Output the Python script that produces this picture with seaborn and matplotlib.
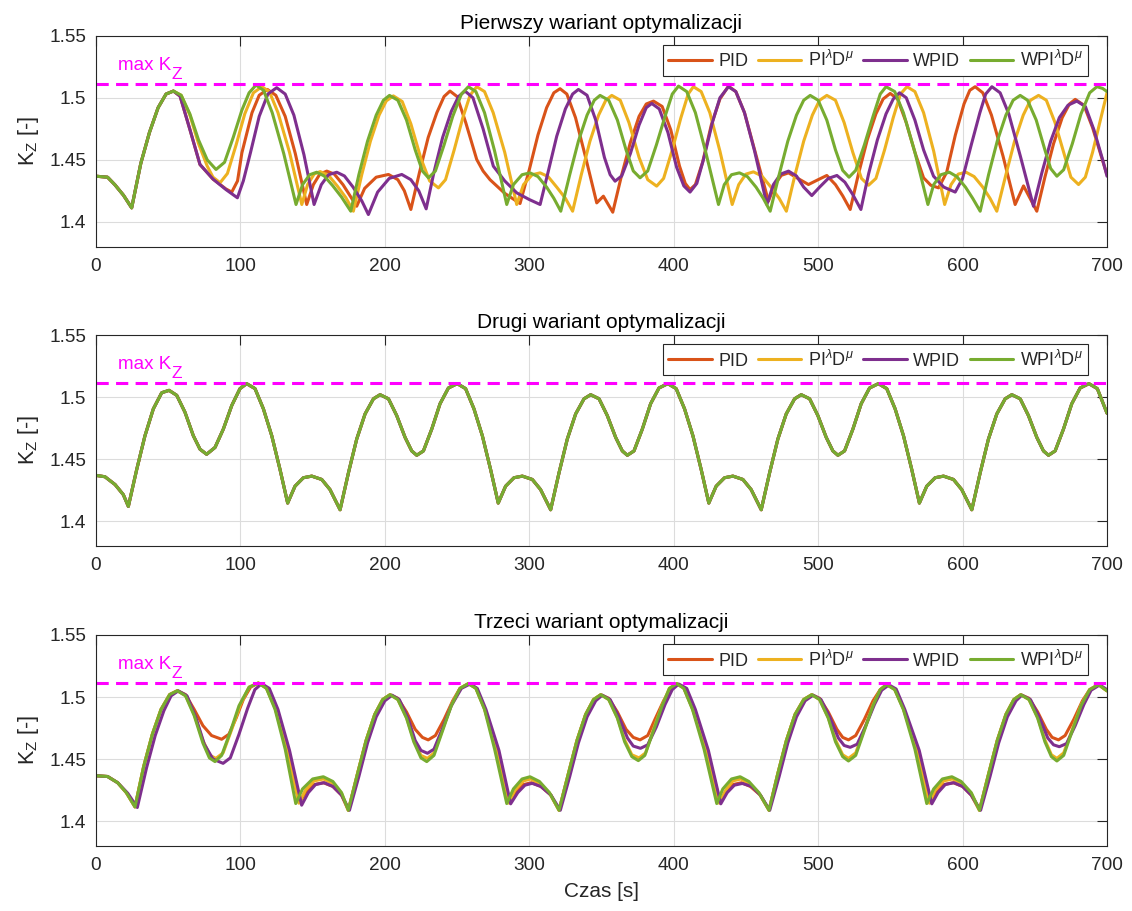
import matplotlib
matplotlib.use("Agg")
import pandas as pd
import seaborn as sns
import matplotlib.pyplot as plt

# ---- data ----
kz_max = 1.511
labels = ["PID", r"PI$^{\lambda}$D$^{\mu}$", "WPID", r"WPI$^{\lambda}$D$^{\mu}$"]
colors = ["#D95319", "#EDB120", "#7E2F8E", "#77AC30"]
titles = ["Pierwszy wariant optymalizacji", "Drugi wariant optymalizacji", "Trzeci wariant optymalizacji"]
xticks = [0, 100, 200, 300, 400, 500, 600, 700]
yticks = [1.4, 1.45, 1.5, 1.55]
ytick_labels = ["1.4", "1.45", "1.5", "1.55"]

# panel 1 - common start of all four runs
start1 = [(0, 1.4368), (8, 1.4360), (13, 1.4300), (19, 1.4215), (24.7, 1.4113), (31, 1.4470),
          (37, 1.4720), (43, 1.4920), (48.5, 1.5030), (53.6, 1.5054)]

pid1 = start1 + [
    (58.2, 1.5013), (65, 1.4745), (72, 1.4462), (81, 1.4345), (90, 1.4265), (94, 1.4240), (98, 1.4330),
    (101, 1.4556), (108, 1.4879), (113, 1.5020), (118.7, 1.5067), (124.5, 1.5020), (131, 1.4850),
    (138, 1.4550), (145.9, 1.4140), (150.5, 1.4300), (155, 1.4385), (159.8, 1.4409), (165, 1.4385),
    (171, 1.4300), (180.5, 1.4126), (186, 1.4270), (194, 1.4360), (202.5, 1.4382), (209, 1.4340),
    (213.5, 1.4250), (218, 1.4100), (224, 1.4400), (230, 1.4680), (236, 1.4880), (241, 1.5010),
    (245.1, 1.5054), (250, 1.5010), (256, 1.4800), (263.6, 1.4503), (268, 1.4410), (272.8, 1.4340),
    (283, 1.4230), (293.6, 1.4148), (300, 1.4420), (306, 1.4700), (312, 1.4920), (317, 1.5040),
    (321.3, 1.5073), (326, 1.5030), (332, 1.4840), (339, 1.4520), (346.7, 1.4153), (351.3, 1.4207),
    (357.8, 1.4078), (364, 1.4380), (370, 1.4640), (376, 1.4850), (381, 1.4950), (386, 1.4973),
    (392, 1.4930), (398, 1.4740), (404, 1.4450), (408, 1.4310), (411.3, 1.4260), (415, 1.4300),
    (420, 1.4480), (426, 1.4780), (432, 1.4990), (437.9, 1.5094), (443, 1.5050), (449, 1.4880),
    (456, 1.4580), (465.6, 1.4167), (470, 1.4300), (474.5, 1.4375), (479.5, 1.4395), (486, 1.4350),
    (493.3, 1.4301), (500, 1.4340), (506, 1.4374), (512, 1.4300), (517, 1.4210), (522.2, 1.4100),
    (528, 1.4390), (534, 1.4660), (540, 1.4870), (545, 1.4990), (549.9, 1.5035), (555, 1.4990),
    (561, 1.4800), (567, 1.4560), (573, 1.4355), (578, 1.4295), (583.4, 1.4274), (589, 1.4400),
    (595, 1.4700), (601, 1.4950), (605, 1.5060), (608.7, 1.5089), (614, 1.5040), (620, 1.4860),
    (628, 1.4530), (636.4, 1.4140), (642.2, 1.4290), (651.4, 1.4086), (657, 1.4360), (663, 1.4630),
    (669, 1.4840), (674, 1.4950), (678, 1.4987), (684, 1.4940), (690, 1.4760), (696, 1.4530),
    (700, 1.4380)]

fopid1 = start1 + [
    (59, 1.5020), (65, 1.4860), (71, 1.4630), (77, 1.4450), (81, 1.4360), (85.9, 1.4315), (91, 1.4390),
    (97, 1.4620), (103, 1.4870), (109, 1.5040), (114.8, 1.5089), (120, 1.5050), (126, 1.4880),
    (134, 1.4560), (142.5, 1.4140), (146.5, 1.4300), (151, 1.4385), (155.2, 1.4405), (161, 1.4375),
    (167, 1.4290), (173, 1.4195), (178.2, 1.4086), (184, 1.4380), (190, 1.4650), (196, 1.4860),
    (201, 1.4975), (205.9, 1.5015), (212, 1.4970), (218, 1.4790), (225, 1.4510), (231, 1.4330),
    (237.1, 1.4274), (242, 1.4340), (248, 1.4580), (254, 1.4840), (259, 1.5020), (263.6, 1.5089),
    (269, 1.5050), (275, 1.4880), (283, 1.4560), (291.3, 1.4140), (296, 1.4300), (302, 1.4380),
    (307.5, 1.4395), (313, 1.4365), (319, 1.4280), (325, 1.4190), (330, 1.4086), (336, 1.4380),
    (342, 1.4650), (348, 1.4860), (353, 1.4980), (357.1, 1.5019), (363, 1.4980), (369, 1.4800),
    (376, 1.4520), (382, 1.4340), (388.2, 1.4288), (393, 1.4350), (399, 1.4580), (405, 1.4840),
    (410, 1.5030), (413.6, 1.5089), (419, 1.5050), (425, 1.4880), (432, 1.4570), (440.5, 1.4140),
    (445, 1.4300), (450, 1.4385), (455.2, 1.4403), (461, 1.4370), (467, 1.4285), (473, 1.4190),
    (478, 1.4086), (484, 1.4380), (490, 1.4650), (496, 1.4860), (501, 1.4980), (506, 1.5019),
    (512, 1.4980), (518, 1.4800), (524, 1.4560), (530, 1.4350), (534.9, 1.4295), (540, 1.4350),
    (546, 1.4580), (552, 1.4840), (557, 1.5030), (561.5, 1.5089), (567, 1.5050), (573, 1.4880),
    (580, 1.4570), (587.6, 1.4140), (592, 1.4300), (597, 1.4385), (602.4, 1.4400), (608, 1.4365),
    (614, 1.4280), (619, 1.4190), (623.7, 1.4086), (630, 1.4380), (636, 1.4650), (642, 1.4860),
    (647, 1.4980), (652.6, 1.5019), (658, 1.4980), (664, 1.4800), (670, 1.4560), (675, 1.4360),
    (680.3, 1.4301), (685, 1.4360), (690, 1.4560), (695, 1.4800), (700, 1.5040)]

wpid1 = start1 + [
    (58.2, 1.5013), (65, 1.4745), (72, 1.4462), (81, 1.4345), (90, 1.4260), (97.9, 1.4194), (102, 1.4330),
    (107, 1.4560), (113, 1.4850), (119, 1.5030), (125.1, 1.5081), (131, 1.5030), (137, 1.4860),
    (144, 1.4540), (151, 1.4140), (156, 1.4300), (161, 1.4380), (166.7, 1.4400), (172, 1.4370),
    (178, 1.4280), (184, 1.4170), (188.6, 1.4059), (195, 1.4240), (203, 1.4350), (211.7, 1.4382),
    (218, 1.4340), (223.5, 1.4250), (228.6, 1.4105), (234, 1.4400), (240, 1.4680), (246, 1.4890),
    (251, 1.5010), (255.5, 1.5054), (261, 1.5000), (268, 1.4750), (275.1, 1.4449), (283, 1.4330),
    (291.3, 1.4234), (300, 1.4180), (307.5, 1.4140), (313, 1.4400), (319, 1.4690), (325, 1.4910),
    (330, 1.5030), (334, 1.5067), (340, 1.5020), (346, 1.4820), (352, 1.4520), (356, 1.4380),
    (359.4, 1.4328), (364, 1.4370), (370, 1.4550), (376, 1.4780), (381, 1.4920), (384.8, 1.4954),
    (390, 1.4910), (396, 1.4720), (402, 1.4440), (407, 1.4290), (411.3, 1.4240), (416, 1.4310),
    (421, 1.4520), (427, 1.4810), (432, 1.5000), (437.9, 1.5089), (443, 1.5050), (449, 1.4880),
    (456, 1.4570), (464.5, 1.4140), (469, 1.4300), (474, 1.4385), (479.5, 1.4409), (485, 1.4370),
    (490, 1.4280), (495.6, 1.4212), (501, 1.4280), (507, 1.4350), (513, 1.4374), (518.5, 1.4320),
    (524, 1.4220), (529.6, 1.4100), (535, 1.4390), (541, 1.4660), (547, 1.4870), (552, 1.4990),
    (556.3, 1.5040), (561, 1.5000), (567, 1.4820), (573, 1.4580), (579.9, 1.4368), (587, 1.4280),
    (594.9, 1.4240), (600, 1.4350), (606, 1.4620), (612, 1.4880), (616, 1.5030), (620.3, 1.5089),
    (626, 1.5040), (632, 1.4870), (640, 1.4530), (649.1, 1.4126), (655, 1.4400), (661, 1.4650),
    (667, 1.4840), (673, 1.4940), (679.1, 1.4973), (685, 1.4930), (691, 1.4740), (697, 1.4500),
    (700, 1.4368)]

wfopid1 = start1 + [
    (59, 1.5020), (65, 1.4870), (71, 1.4660), (77, 1.4500), (83.1, 1.4422), (89, 1.4480), (95, 1.4680),
    (101, 1.4900), (106, 1.5040), (110.8, 1.5102), (116, 1.5060), (122, 1.4880), (130, 1.4550),
    (138.5, 1.4140), (143, 1.4300), (148, 1.4380), (152.8, 1.4400), (158, 1.4370), (164, 1.4290),
    (170, 1.4200), (176.4, 1.4086), (182, 1.4380), (188, 1.4650), (194, 1.4860), (199, 1.4980),
    (203.2, 1.5019), (209, 1.4980), (215, 1.4820), (221, 1.4580), (226, 1.4410), (230.2, 1.4355),
    (235, 1.4410), (241, 1.4620), (247, 1.4850), (253, 1.5030), (257.8, 1.5089), (263, 1.5050),
    (269, 1.4880), (276, 1.4570), (284.4, 1.4140), (289, 1.4300), (295, 1.4380), (300.5, 1.4395),
    (306, 1.4365), (312, 1.4280), (317, 1.4190), (321.8, 1.4086), (328, 1.4380), (334, 1.4650),
    (340, 1.4860), (345, 1.4980), (349, 1.5019), (355, 1.4980), (361, 1.4820), (367, 1.4580),
    (372, 1.4410), (376.7, 1.4355), (382, 1.4410), (388, 1.4620), (394, 1.4850), (399, 1.5030),
    (403.3, 1.5094), (409, 1.5050), (415, 1.4880), (422, 1.4570), (431, 1.4140), (435, 1.4300),
    (440, 1.4380), (445.5, 1.4395), (451, 1.4365), (457, 1.4280), (462, 1.4190), (466.8, 1.4086),
    (473, 1.4380), (479, 1.4650), (485, 1.4860), (490, 1.4980), (494.5, 1.5019), (500, 1.4980),
    (506, 1.4820), (512, 1.4580), (517, 1.4415), (521.4, 1.4360), (526, 1.4415), (532, 1.4620),
    (538, 1.4850), (543, 1.5030), (547, 1.5089), (553, 1.5050), (559, 1.4880), (567, 1.4560),
    (576, 1.4140), (580, 1.4300), (585, 1.4380), (590.8, 1.4400), (596, 1.4365), (602, 1.4280),
    (607, 1.4190), (612.2, 1.4086), (618, 1.4380), (624, 1.4650), (630, 1.4860), (635, 1.4980),
    (639.9, 1.5019), (645, 1.4980), (651, 1.4820), (657, 1.4580), (661, 1.4430), (665.3, 1.4368),
    (670, 1.4420), (676, 1.4630), (682, 1.4870), (688, 1.5040), (693, 1.5089), (697, 1.5075),
    (700, 1.5050)]

# panel 2 - all four controllers give the same response
kz2 = [
    (0, 1.4369), (6.2, 1.4358), (13.2, 1.4295), (18.9, 1.4214), (22.4, 1.4119), (28.2, 1.4417),
    (33.9, 1.4688), (39.7, 1.4905), (45.5, 1.5035), (50.6, 1.5054), (55.9, 1.5014), (61.6, 1.4878),
    (67.4, 1.4688), (72.0, 1.4580), (76.6, 1.4539), (82.4, 1.4594), (88.2, 1.4743), (94.0, 1.4932),
    (99.7, 1.5068),
    (104.3, 1.5108), (110.1, 1.5068), (115.9, 1.4905), (121.7, 1.4688), (127.4, 1.4417), (132.7, 1.4146),
    (137.8, 1.4282), (143.6, 1.4350), (149.4, 1.4363), (156.3, 1.4336), (162.0, 1.4255), (169.0, 1.4092),
    (174.8, 1.4390), (180.5, 1.4661), (186.3, 1.4864), (192.1, 1.4986), (196.7, 1.5019), (202.5, 1.4986),
    (208.2, 1.4851), (214.0, 1.4675), (218.6, 1.4566), (222.1, 1.4531), (226.7, 1.4566), (232.5, 1.4743),
    (238.2, 1.4946), (244.0, 1.5073),
    (250.1, 1.5108), (255.9, 1.5068), (261.7, 1.4905), (267.5, 1.4688), (273.2, 1.4417), (278.5, 1.4146),
    (283.6, 1.4282), (289.4, 1.4350), (295.2, 1.4363), (302.1, 1.4336), (307.8, 1.4255), (314.8, 1.4092),
    (320.6, 1.4390), (326.3, 1.4661), (332.1, 1.4864), (337.9, 1.4986), (342.5, 1.5019), (348.3, 1.4986),
    (354.0, 1.4851), (359.8, 1.4675), (364.4, 1.4566), (367.9, 1.4531), (372.5, 1.4566), (378.3, 1.4743),
    (384.0, 1.4946), (389.8, 1.5073),
    (395.9, 1.5108), (401.7, 1.5068), (407.5, 1.4905), (413.3, 1.4688), (419.0, 1.4417), (424.3, 1.4146),
    (429.4, 1.4282), (435.2, 1.4350), (441.0, 1.4363), (447.9, 1.4336), (453.6, 1.4255), (460.6, 1.4092),
    (466.4, 1.4390), (472.1, 1.4661), (477.9, 1.4864), (483.7, 1.4986), (488.3, 1.5019), (494.1, 1.4986),
    (499.8, 1.4851), (505.6, 1.4675), (510.2, 1.4566), (513.7, 1.4531), (518.3, 1.4566), (524.1, 1.4743),
    (529.8, 1.4946), (535.6, 1.5073),
    (541.7, 1.5108), (547.5, 1.5068), (553.3, 1.4905), (559.1, 1.4688), (564.8, 1.4417), (570.1, 1.4146),
    (575.2, 1.4282), (581.0, 1.4350), (586.8, 1.4363), (593.7, 1.4336), (599.4, 1.4255), (606.4, 1.4092),
    (612.2, 1.4390), (617.9, 1.4661), (623.7, 1.4864), (629.5, 1.4986), (634.1, 1.5019), (639.9, 1.4986),
    (645.6, 1.4851), (651.4, 1.4675), (656.0, 1.4566), (659.5, 1.4531), (664.1, 1.4566), (669.9, 1.4743),
    (675.6, 1.4946), (681.4, 1.5073),
    (687.5, 1.5108), (693.3, 1.5068), (700, 1.4870)]

# panel 3
pid3 = [
    (0, 1.4366), (8, 1.4360), (15, 1.4310), (21, 1.4230), (27, 1.4115), (33, 1.4440), (39, 1.4700),
    (45, 1.4900), (51, 1.5020), (56.3, 1.5051), (62, 1.5020), (68, 1.4900), (74, 1.4770), (80, 1.4690),
    (87, 1.4660), (92, 1.4700), (97, 1.4830), (102, 1.4980), (107, 1.5080), (112.4, 1.5113),
    (118, 1.5075), (124, 1.4920), (132, 1.4590), (140.8, 1.4150), (145, 1.4230), (151, 1.4295),
    (157.4, 1.4310), (164, 1.4280), (170, 1.4210), (174.7, 1.4088), (181, 1.4380), (187, 1.4650),
    (193, 1.4860), (198.5, 1.4980), (203.6, 1.5019), (209, 1.4990), (215, 1.4880), (221, 1.4740),
    (226, 1.4675), (230, 1.4655), (235, 1.4690), (241, 1.4820), (247, 1.4970), (252, 1.5070),
    (257.8, 1.5108), (263, 1.5075), (269, 1.4910), (277, 1.4590), (286.5, 1.4150), (291, 1.4230),
    (296, 1.4295), (301.5, 1.4310), (308, 1.4280), (315, 1.4210), (320.6, 1.4088), (327, 1.4380),
    (333, 1.4650), (339, 1.4860), (344.5, 1.4980), (349.5, 1.5019), (355, 1.4990), (361, 1.4880),
    (367, 1.4740), (372, 1.4675), (376.7, 1.4655), (382, 1.4690), (387, 1.4820), (393, 1.4970),
    (398, 1.5070), (402.1, 1.5108), (407, 1.5075), (413, 1.4910), (423, 1.4590), (432, 1.4150),
    (436, 1.4230), (441, 1.4295), (447, 1.4310), (453, 1.4280), (460, 1.4210), (466, 1.4088),
    (472, 1.4380), (478, 1.4650), (484, 1.4860), (490, 1.4980), (495.6, 1.5019), (501, 1.4990),
    (507, 1.4880), (513, 1.4740), (517, 1.4675), (521, 1.4655), (526, 1.4690), (532, 1.4820),
    (538, 1.4970), (543, 1.5060), (547.5, 1.5100), (553, 1.5065), (559, 1.4910), (568, 1.4590),
    (577.5, 1.4150), (582, 1.4230), (587, 1.4295), (593.5, 1.4310), (600, 1.4280), (606, 1.4210),
    (611.7, 1.4088), (618, 1.4380), (624, 1.4650), (630, 1.4860), (635.5, 1.4980), (640.3, 1.5019),
    (646, 1.4990), (652, 1.4880), (658, 1.4740), (662, 1.4675), (666.4, 1.4655), (671, 1.4690),
    (677, 1.4820), (683, 1.4970), (688, 1.5060), (694.1, 1.5100), (700, 1.5050)]

fopid3 = [
    (0, 1.4366), (8, 1.4360), (15, 1.4310), (21, 1.4230), (27, 1.4115), (33, 1.4440), (39, 1.4700),
    (45, 1.4900), (51, 1.5020), (56.3, 1.5051), (62, 1.5012), (68, 1.4860), (74, 1.4650), (79, 1.4530),
    (83, 1.4506), (88, 1.4550), (94, 1.4740), (100, 1.4940), (106, 1.5080), (112.4, 1.5113),
    (118, 1.5072), (124, 1.4910), (132, 1.4585), (140.5, 1.4145), (145, 1.4250), (151, 1.4325),
    (157.4, 1.4340), (164, 1.4305), (170, 1.4225), (174.7, 1.4088), (181, 1.4380), (187, 1.4650),
    (193, 1.4860), (198.5, 1.4980), (203.6, 1.5019), (209, 1.4980), (215, 1.4835), (220, 1.4655),
    (225, 1.4530), (229.5, 1.4506), (234, 1.4550), (240, 1.4740), (246, 1.4935), (252, 1.5070),
    (257.8, 1.5108), (263, 1.5072), (269, 1.4905), (277, 1.4585), (286, 1.4145), (290, 1.4250),
    (296, 1.4325), (301, 1.4340), (307, 1.4305), (314, 1.4225), (320.6, 1.4088), (327, 1.4380),
    (333, 1.4650), (339, 1.4860), (344.5, 1.4980), (349.5, 1.5019), (355, 1.4980), (361, 1.4835),
    (366, 1.4655), (371, 1.4535), (376, 1.4510), (380.5, 1.4550), (386, 1.4740), (392, 1.4935),
    (397, 1.5070), (402.1, 1.5108), (407, 1.5072), (413, 1.4905), (422, 1.4585), (431.5, 1.4145),
    (436, 1.4250), (441, 1.4325), (446.5, 1.4340), (452, 1.4305), (459, 1.4225), (466, 1.4088),
    (472, 1.4380), (478, 1.4650), (484, 1.4860), (490, 1.4980), (495.6, 1.5019), (501, 1.4980),
    (507, 1.4835), (512, 1.4655), (517, 1.4535), (521, 1.4506), (526, 1.4550), (532, 1.4740),
    (538, 1.4935), (543, 1.5060), (547.5, 1.5100), (553, 1.5062), (559, 1.4905), (568, 1.4585),
    (577, 1.4145), (581, 1.4250), (587, 1.4325), (593, 1.4340), (599, 1.4305), (606, 1.4225),
    (611.7, 1.4088), (618, 1.4380), (624, 1.4650), (630, 1.4860), (635.5, 1.4980), (640.3, 1.5019),
    (646, 1.4980), (652, 1.4835), (657, 1.4655), (661.5, 1.4535), (665.3, 1.4506), (670, 1.4550),
    (676, 1.4740), (682, 1.4935), (688, 1.5060), (694.1, 1.5100), (700, 1.5050)]

wpid3 = [
    (0, 1.4366), (8, 1.4360), (15, 1.4310), (22, 1.4225), (28.6, 1.4110), (35, 1.4430), (41, 1.4690),
    (47, 1.4890), (52, 1.5010), (57, 1.5050), (63, 1.5010), (69, 1.4840), (75, 1.4620), (81, 1.4500),
    (88, 1.4466), (93, 1.4510), (99, 1.4700), (105, 1.4910), (110, 1.5060), (114.7, 1.5108),
    (120, 1.5070), (126, 1.4900), (134, 1.4570), (142.4, 1.4129), (147, 1.4230), (152, 1.4295),
    (158, 1.4310), (164, 1.4280), (170, 1.4210), (175.5, 1.4088), (182, 1.4360), (188, 1.4630),
    (194, 1.4840), (200, 1.4970), (205, 1.5015), (210, 1.4980), (216, 1.4830), (221, 1.4650),
    (225, 1.4570), (229.5, 1.4547), (234, 1.4580), (240, 1.4750), (246, 1.4930), (253, 1.5070),
    (259, 1.5105), (264, 1.5070), (270, 1.4900), (279, 1.4570), (287.1, 1.4140), (292, 1.4230),
    (297, 1.4290), (302, 1.4305), (308, 1.4280), (315, 1.4210), (321.5, 1.4088), (328, 1.4360),
    (334, 1.4630), (340, 1.4840), (346, 1.4970), (350.5, 1.5015), (356, 1.4980), (362, 1.4840),
    (368, 1.4670), (372, 1.4605), (377, 1.4587), (382, 1.4615), (388, 1.4760), (394, 1.4940),
    (399, 1.5060), (403.5, 1.5105), (409, 1.5070), (415, 1.4900), (424, 1.4570), (432.6, 1.4140),
    (437, 1.4230), (442, 1.4290), (447.5, 1.4304), (454, 1.4280), (460, 1.4210), (466.5, 1.4088),
    (473, 1.4360), (479, 1.4630), (485, 1.4840), (491, 1.4970), (496.5, 1.5015), (502, 1.4980),
    (508, 1.4840), (514, 1.4670), (518, 1.4610), (522.2, 1.4595), (527, 1.4620), (533, 1.4770),
    (539, 1.4940), (544, 1.5055), (549, 1.5098), (554, 1.5065), (560, 1.4900), (570, 1.4570),
    (578.7, 1.4140), (583, 1.4230), (588, 1.4295), (594, 1.4310), (600, 1.4280), (606, 1.4210),
    (612.5, 1.4088), (619, 1.4360), (625, 1.4630), (631, 1.4840), (637, 1.4970), (641, 1.5015),
    (647, 1.4980), (653, 1.4840), (659, 1.4670), (663, 1.4615), (667, 1.4600), (672, 1.4625),
    (678, 1.4770), (684, 1.4940), (689, 1.5055), (695, 1.5098), (700, 1.5060)]

wfopid3 = [
    (0, 1.4366), (8, 1.4360), (15, 1.4310), (21, 1.4230), (27, 1.4115), (33, 1.4440), (39, 1.4700),
    (45, 1.4900), (51, 1.5020), (56.3, 1.5051), (62, 1.5010), (68, 1.4850), (74, 1.4630), (78.5, 1.4510),
    (82.4, 1.4480), (87, 1.4530), (93, 1.4720), (99, 1.4930), (106, 1.5080), (112.4, 1.5113),
    (118, 1.5070), (124, 1.4900), (131, 1.4580), (138.3, 1.4142), (143, 1.4260), (150, 1.4340),
    (157.4, 1.4358), (164, 1.4320), (170, 1.4230), (174.7, 1.4088), (181, 1.4380), (187, 1.4650),
    (193, 1.4860), (198.5, 1.4980), (203.6, 1.5019), (209, 1.4980), (215, 1.4830), (220, 1.4640),
    (225, 1.4510), (229, 1.4480), (234, 1.4530), (240, 1.4730), (246, 1.4930), (252, 1.5070),
    (257.8, 1.5108), (263, 1.5070), (269, 1.4900), (276, 1.4580), (284.4, 1.4142), (289, 1.4260),
    (295, 1.4340), (300.5, 1.4358), (307, 1.4320), (314, 1.4230), (320.6, 1.4088), (327, 1.4380),
    (333, 1.4650), (339, 1.4860), (344.5, 1.4980), (349.5, 1.5019), (355, 1.4980), (361, 1.4830),
    (366, 1.4640), (371, 1.4520), (375.5, 1.4488), (380, 1.4530), (386, 1.4730), (392, 1.4930),
    (397, 1.5070), (402.1, 1.5108), (407, 1.5070), (413, 1.4900), (421, 1.4580), (429.8, 1.4142),
    (434, 1.4260), (440, 1.4340), (446, 1.4358), (452, 1.4320), (459, 1.4230), (466, 1.4088),
    (472, 1.4380), (478, 1.4650), (484, 1.4860), (490, 1.4980), (495.6, 1.5019), (501, 1.4980),
    (507, 1.4830), (512, 1.4640), (517, 1.4520), (521, 1.4485), (526, 1.4530), (532, 1.4730),
    (538, 1.4930), (543, 1.5060), (547.5, 1.5100), (553, 1.5060), (559, 1.4900), (567, 1.4580),
    (575.2, 1.4142), (580, 1.4260), (586, 1.4340), (592.6, 1.4358), (599, 1.4320), (606, 1.4230),
    (611.7, 1.4088), (618, 1.4380), (624, 1.4650), (630, 1.4860), (635.5, 1.4980), (640.3, 1.5019),
    (646, 1.4980), (652, 1.4830), (657, 1.4640), (661.5, 1.4520), (665.3, 1.4485), (670, 1.4530),
    (676, 1.4730), (682, 1.4930), (688, 1.5060), (694.1, 1.5100), (700, 1.5050)]

panels = [
    [pid1, fopid1, wpid1, wfopid1],
    [kz2, kz2, kz2, kz2],
    [pid3, fopid3, wpid3, wfopid3],
]

# ---- style ----
sns.set_theme(style="white")
plt.rcParams["font.family"] = ["Liberation Sans", "DejaVu Sans"]
plt.rcParams["mathtext.fontset"] = "custom"
plt.rcParams["mathtext.rm"] = "Liberation Sans"
plt.rcParams["mathtext.it"] = "Liberation Sans:italic"
plt.rcParams["mathtext.sf"] = "Liberation Sans"
dark = "#262626"
magenta = "#FF00FF"

fig = plt.figure(figsize=(11.32, 9.11), dpi=100)
ax_h = 211 / 911
bottoms = [1 - 246.7 / 911, 1 - 546 / 911, 1 - 846 / 911]
left, width = 96 / 1132, (1107 - 96) / 1132

for i, (series, title) in enumerate(zip(panels, titles)):
    ax = fig.add_axes([left, bottoms[i], width, ax_h])
    for pts, lab, col in zip(series, labels, colors):
        df = pd.DataFrame(pts, columns=["t", "kz"])
        sns.lineplot(data=df, x="t", y="kz", ax=ax, color=col, lw=2.2,
                     label=lab, estimator=None, sort=False)
    ax.axhline(kz_max, color=magenta, lw=2.2, ls=(0, (4, 2.4)), label="_nolegend_")
    # "max K_Z" with a full-size, lowered Z like the original
    ax.text(15, kz_max + 0.0115, "max K", color=magenta, fontsize=13.5)
    ax.annotate("Z", xy=(15, kz_max + 0.0115), xytext=(38.5, -6.5), textcoords="offset points",
                color=magenta, fontsize=12.5)

    ax.set_xlim(0, 700)
    ax.set_ylim(1.38, 1.55)
    ax.set_xticks(xticks)
    ax.set_yticks(yticks)
    ax.set_yticklabels(ytick_labels)
    ax.grid(True, color="#DCDCDC", lw=0.8)
    ax.tick_params(direction="in", length=7, width=0.8, top=True, right=True,
                   colors=dark, labelsize=13.7)
    ax.tick_params(axis="x", pad=8)
    ax.tick_params(axis="y", pad=7)
    for sp in ax.spines.values():
        sp.set_color(dark)
        sp.set_linewidth(0.8)
    ax.set_title(title, fontsize=15, color="black", pad=5)
    ax.set_ylabel(r"K$_\mathrm{Z}$ [-]", fontsize=15.5, color=dark, labelpad=6)
    ax.set_xlabel("Czas [s]" if i == 2 else "", fontsize=15, color=dark, labelpad=6)

    leg = ax.legend(loc="upper right", bbox_to_anchor=(0.981, 0.957), ncol=4,
                    fontsize=13, frameon=True, fancybox=False, framealpha=1,
                    handlelength=2.4, handletextpad=0.35, columnspacing=0.55,
                    borderpad=0.3, borderaxespad=0)
    leg.get_frame().set_edgecolor(dark)
    leg.get_frame().set_linewidth(0.8)

fig.savefig("out.png", dpi=100)
